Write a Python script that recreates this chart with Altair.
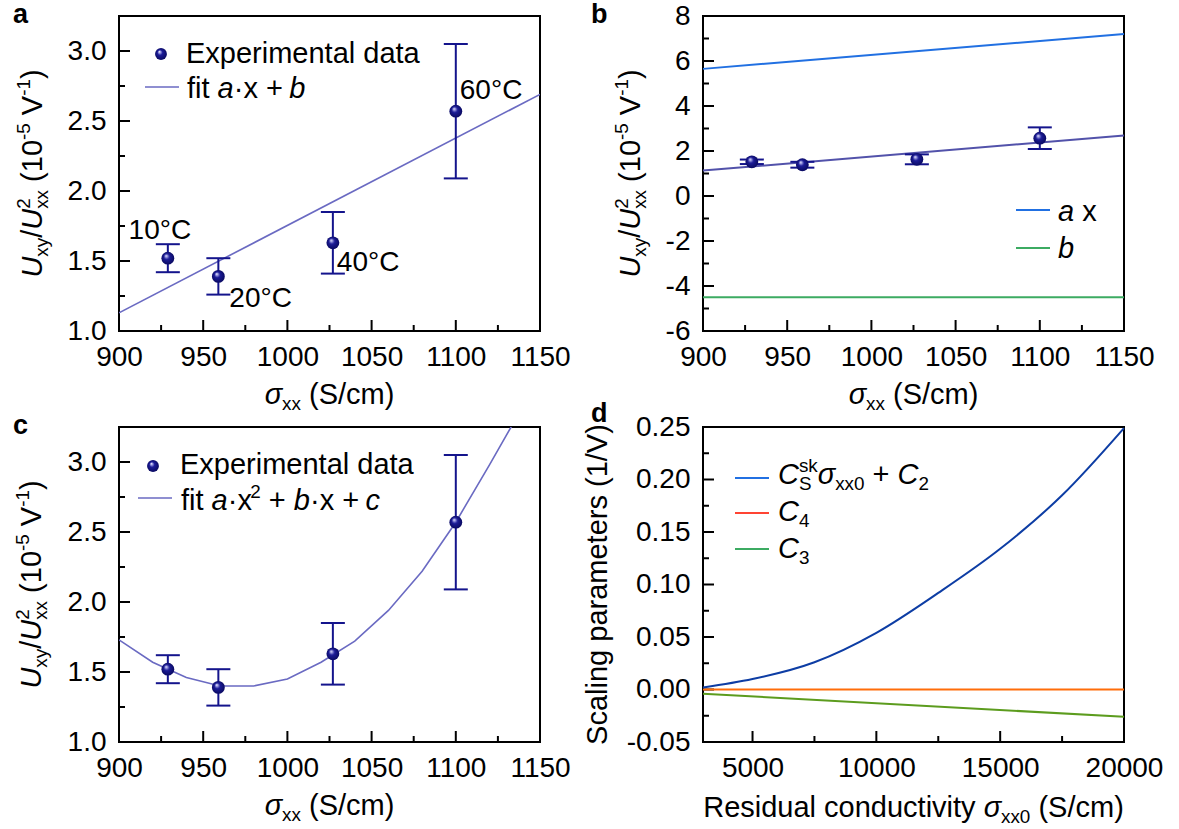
import altair as alt
import pandas as pd

F = "Liberation Sans"
LS = 28   # tick-label size
TS = 29   # titles / legend size

# ---------------- data ----------------
sigma = [929, 959, 1027, 1100]
ratio = [1.52, 1.39, 1.63, 2.57]
err_lo = [1.42, 1.26, 1.41, 2.09]
err_hi = [1.62, 1.52, 1.85, 3.05]
temps = ["10°C", "20°C", "40°C", "60°C"]

lin_x = [900, 1150]
lin_fit = [1.13, 2.69]
lin_ax = [5.65, 7.20]
lin_b = [-4.50, -4.50]

quad_x = [900, 920, 940, 960, 980, 1000, 1020, 1040, 1060, 1080, 1100, 1120, 1140]
quad_fit = [1.73, 1.57, 1.46, 1.40, 1.40, 1.45, 1.57, 1.72, 1.94, 2.22, 2.57, 2.98, 3.40]

res_x = [3000, 5000, 7500, 10000, 12500, 15000, 17500, 20000]
res_skew = [0.002, 0.010, 0.026, 0.054, 0.092, 0.134, 0.185, 0.249]
res_line_x = [3000, 20000]
res_c4 = [0.0, 0.0]
res_c3 = [-0.004, -0.026]

sig_major = [900, 950, 1000, 1050, 1100, 1150]
sig_minor = [925, 975, 1025, 1075, 1125]
rat_major = [1.0, 1.5, 2.0, 2.5, 3.0]
rat_minor = [1.25, 1.75, 2.25, 2.75]
b_major = [-6, -4, -2, 0, 2, 4, 6, 8]
b_minor = [-5, -3, -1, 1, 3, 5, 7]
res_major = [5000, 10000, 15000, 20000]
res_minor = [7500, 12500, 17500]
par_major = [-0.05, 0.0, 0.05, 0.10, 0.15, 0.20, 0.25]
par_minor = [-0.025, 0.025, 0.075, 0.125, 0.175, 0.225]

pts = pd.DataFrame({"s": sigma, "r": ratio, "lo": err_lo, "hi": err_hi, "t": temps})

# ---------------- styles ----------------
W, H = 421, 315
NAVY = "#14148c"
FIT = "#6a6ac2"
FIT_B = "#5252aa"
BLUE = "#2170e2"
GREEN = "#3cab62"
D_BLUE = "#0d3da4"
D_ORANGE = "#ff6d0a"
D_RED = "#ff4433"
D_OLIVE = "#5c9c1e"
BALL = alt.RadialGradient(
    gradient="radial",
    stops=[alt.GradientStop(offset=0, color="#f6f6ff"),
           alt.GradientStop(offset=0.16, color="#9d9de2"),
           alt.GradientStop(offset=0.4, color="#1c1c98"),
           alt.GradientStop(offset=1, color="#07075a")],
    x1=0.36, y1=0.3, r1=0, x2=0.5, y2=0.5, r2=0.55)

ONE = alt.Data(values=[{"k": 0}])

WID = {' ': 0.278, '(': 0.333, ')': 0.333, '/': 0.278, '-': 0.333, '·': 0.278,
       '+': 0.584, '°': 0.4, 'σ': 0.6, 'a': 0.556, 'b': 0.556, 'c': 0.5, 'd': 0.556,
       'e': 0.556, 'f': 0.278, 'g': 0.556, 'i': 0.222, 'k': 0.5, 'l': 0.222, 'm': 0.833,
       'n': 0.556, 'o': 0.556, 'p': 0.556, 'r': 0.333, 's': 0.5, 't': 0.278, 'u': 0.556,
       'v': 0.5, 'x': 0.5, 'y': 0.5, 'C': 0.722, 'E': 0.667, 'R': 0.722, 'S': 0.667,
       'U': 0.722, 'V': 0.667}


def adv(s):
    return sum(WID.get(c, 0.556) for c in s)


def rich(segs, x, y, size, angle=0, center=False):
    items = []
    pos = 0.0
    for seg in segs:
        kind = seg[0]
        if kind == "stack":
            _, sup, sub = seg
            fs = size * 0.65
            items.append((sup, fs, -0.42 * size, False, pos))
            items.append((sub, fs, 0.22 * size, False, pos))
            pos += max(adv(sup), adv(sub)) * fs
            continue
        _, text, italic = seg
        if kind == "n":
            fs, dy = size, 0.0
        elif kind == "sub":
            fs, dy = size * 0.65, 0.22 * size
        else:
            fs, dy = size * 0.65, -0.42 * size
        lead = len(text) - len(text.lstrip(" "))
        items.append((text.strip(" "), fs, dy, italic, pos + lead * WID[' '] * fs))
        pos += adv(text) * fs
    shift = -pos / 2 if center else 0.0
    out = []
    for text, fs, dy, italic, p in items:
        if not text:
            continue
        out.append(alt.Chart(ONE).mark_text(
            text=text, font=F, fontSize=fs,
            fontStyle="italic" if italic else "normal",
            align="left", baseline="alphabetic", angle=angle,
            dx=p + shift, dy=dy, color="black").encode(
            x=alt.value(x), y=alt.value(y)))
    return out


def plain(text, x, y, size, angle=0, align="left", bold=False):
    return alt.Chart(ONE).mark_text(
        text=text, font=F, fontSize=size, align=align, baseline="alphabetic",
        angle=angle, fontWeight="bold" if bold else "normal", color="black").encode(
        x=alt.value(x), y=alt.value(y))


def axes(xdom, ydom, xvals, yvals, yexpr):
    axx = alt.Axis(values=xvals, title=None, ticks=False, tickSize=0, domain=False,
                   grid=False, labelFont=F, labelFontSize=LS, labelColor="black",
                   labelPadding=12, labelFlush=False, labelOverlap=False,
                   labelExpr="format(datum.value, 'd')")
    axy = alt.Axis(values=yvals, title=None, ticks=False, tickSize=0, domain=False,
                   grid=False, labelFont=F, labelFontSize=LS, labelColor="black",
                   labelPadding=13, labelFlush=False, labelOverlap=False,
                   labelExpr=yexpr)
    sx = alt.Scale(domain=xdom, nice=False, zero=False)
    sy = alt.Scale(domain=ydom, nice=False, zero=False)

    def X(f):
        return alt.X(f, type="quantitative", scale=sx, axis=axx)

    def Y(f):
        return alt.Y(f, type="quantitative", scale=sy, axis=axy)
    return X, Y


def ticks(X, Y, xmaj, xmin, ymaj, ymin):
    L = []
    for vals, ln in ((xmaj, 11), (xmin, 6)):
        L.append(alt.Chart(pd.DataFrame({"v": vals})).mark_rule(
            color="black", strokeWidth=2).encode(
            x=X("v"), y=alt.value(H), y2=alt.value(H - ln)))
    for vals, ln in ((ymaj, 11), (ymin, 6)):
        L.append(alt.Chart(pd.DataFrame({"v": vals})).mark_rule(
            color="black", strokeWidth=2).encode(
            y=Y("v"), x=alt.value(0), x2=alt.value(ln)))
    return L


def points(X, Y):
    return [
        alt.Chart(pts).mark_rule(color=NAVY, strokeWidth=2).encode(
            x=X("s"), y=Y("lo"), y2=alt.Y2("hi")),
        alt.Chart(pts).mark_tick(orient="horizontal", size=24, thickness=2,
                                 color=NAVY, opacity=1).encode(x=X("s"), y=Y("hi")),
        alt.Chart(pts).mark_tick(orient="horizontal", size=24, thickness=2,
                                 color=NAVY, opacity=1).encode(x=X("s"), y=Y("lo")),
        alt.Chart(pts).mark_circle(size=165, fill=BALL, opacity=1, strokeWidth=0).encode(
            x=X("s"), y=Y("r")),
    ]


def ball_value(x, y):
    return alt.Chart(ONE).mark_circle(size=140, fill=BALL, opacity=1, strokeWidth=0).encode(
        x=alt.value(x), y=alt.value(y))


def seg_line(x1, x2, y, color, width=2):
    return alt.Chart(ONE).mark_rule(color=color, strokeWidth=width).encode(
        x=alt.value(x1), x2=alt.value(x2), y=alt.value(y))


def ytitle_ratio(xpos):
    segs = [("n", "U", True), ("sub", "xy", False), ("n", "/", False),
            ("n", "U", True), ("stack", "2", "xx"), ("n", " (10", False),
            ("sup", "-5", False), ("n", " V", False), ("sup", "-1", False),
            ("n", ")", False)]
    return rich(segs, xpos, H / 2, TS, angle=270, center=True)


def xtitle_sigma():
    segs = [("n", "σ", True), ("sub", "xx", False), ("n", " (S/cm)", False)]
    return rich(segs, W / 2, H + 73, TS, center=True)


# ---------------- panel a ----------------
Xa, Ya = axes([900, 1150], [1.0, 3.25], sig_major, rat_major,
              "format(datum.value, '.1f')")
la = []
la += ticks(Xa, Ya, sig_major, sig_minor, rat_major, rat_minor)
la.append(alt.Chart(pd.DataFrame({"x": lin_x, "y": lin_fit})).mark_line(
    color=FIT, strokeWidth=1.6, clip=True).encode(x=Xa("x"), y=Ya("y")))
la += points(Xa, Ya)
for lab, al, dx, dy, fld in (("10°C", "center", -8, -5, "hi"), ("20°C", "left", 11, 12, "lo"),
                             ("40°C", "left", 4, 28, "r"), ("60°C", "left", 4, -12, "r")):
    la.append(alt.Chart(pts).transform_filter(alt.datum.t == lab).mark_text(
        font=F, fontSize=28, align=al, baseline="alphabetic", dx=dx, dy=dy,
        color="black").encode(x=Xa("s"), y=Ya(fld), text="t:N"))
la.append(ball_value(42, 38))
la.append(plain("Experimental data", 67, 47, TS))
la.append(seg_line(26, 60, 71, FIT, 1.6))
la += rich([("n", "fit ", False), ("n", "a", True), ("n", "·x + ", False), ("n", "b", True)],
           68, 82, TS)
la += xtitle_sigma()
la += ytitle_ratio(-77)
la.append(plain("a", -106, 7, 27, bold=True))
# anchor of the page's top-left corner
la.append(alt.Chart(ONE).mark_rule(opacity=0, strokeWidth=0).encode(
    x=alt.value(-118), x2=alt.value(-117), y=alt.value(-15), y2=alt.value(-14)))
pa = alt.layer(*la).properties(width=W, height=H)

# ---------------- panel b ----------------
Xb, Yb = axes([900, 1150], [-6, 8], sig_major, b_major,
              "replace(format(datum.value, 'd'), '\u2212', '-')")
lb = []
lb += ticks(Xb, Yb, sig_major, sig_minor, b_major, b_minor)
lb.append(alt.Chart(pd.DataFrame({"x": lin_x, "y": lin_ax})).mark_line(
    color=BLUE, strokeWidth=2).encode(x=Xb("x"), y=Yb("y")))
lb.append(alt.Chart(pd.DataFrame({"x": lin_x, "y": lin_b})).mark_line(
    color=GREEN, strokeWidth=2).encode(x=Xb("x"), y=Yb("y")))
lb.append(alt.Chart(pd.DataFrame({"x": lin_x, "y": lin_fit})).mark_line(
    color=FIT_B, strokeWidth=2).encode(x=Xb("x"), y=Yb("y")))
lb += points(Xb, Yb)
lb.append(seg_line(313, 347, 194, BLUE))
lb += rich([("n", "a", True), ("n", " x", False)], 355, 205, TS)
lb.append(seg_line(313, 347, 232, GREEN))
lb += rich([("n", "b", True)], 355, 242, TS)
lb += xtitle_sigma()
lb += ytitle_ratio(-63)
lb.append(plain("b", -112, 7, 27, bold=True))
pb = alt.layer(*lb).properties(width=W, height=H)

# ---------------- panel c ----------------
Xc, Yc = axes([900, 1150], [1.0, 3.25], sig_major, rat_major,
              "format(datum.value, '.1f')")
lc = []
lc += ticks(Xc, Yc, sig_major, sig_minor, rat_major, rat_minor)
lc.append(alt.Chart(pd.DataFrame({"x": quad_x, "y": quad_fit})).mark_line(
    color=FIT, strokeWidth=1.6, clip=True).encode(x=Xc("x"), y=Yc("y")))
lc += points(Xc, Yc)
lc.append(ball_value(34, 39))
lc.append(plain("Experimental data", 61, 47, TS))
lc.append(seg_line(19, 53, 71, FIT, 1.6))
lc += rich([("n", "fit ", False), ("n", "a", True), ("n", "·x", False), ("sup", "2", False),
            ("n", " + ", False), ("n", "b", True), ("n", "·x + ", False), ("n", "c", True)],
           62, 83, TS)
lc += xtitle_sigma()
lc += ytitle_ratio(-78)
lc.append(plain("c", -106, 7, 27, bold=True))
pc = alt.layer(*lc).properties(width=W, height=H)

# ---------------- panel d ----------------
Xd, Yd = axes([3000, 20000], [-0.05, 0.25], res_major, par_major,
              "replace(format(datum.value, '.2f'), '\u2212', '-')")
ld = []
ld += ticks(Xd, Yd, res_major, res_minor, par_major, par_minor)
ld.append(alt.Chart(pd.DataFrame({"x": res_line_x, "y": res_c3})).mark_line(
    color=D_OLIVE, strokeWidth=2).encode(x=Xd("x"), y=Yd("y")))
ld.append(alt.Chart(pd.DataFrame({"x": res_line_x, "y": res_c4})).mark_line(
    color=D_ORANGE, strokeWidth=2).encode(x=Xd("x"), y=Yd("y")))
ld.append(alt.Chart(pd.DataFrame({"x": res_x, "y": res_skew})).mark_line(
    color=D_BLUE, strokeWidth=2, interpolate="monotone").encode(x=Xd("x"), y=Yd("y")))
ld.append(seg_line(32, 66, 51, BLUE))
ld += rich([("n", "C", True), ("stack", "sk", "S"), ("n", "σ", True), ("sub", "xx0", False),
            ("n", " + ", False), ("n", "C", True), ("sub", "2", False)], 75, 57, TS)
ld.append(seg_line(32, 66, 86, D_RED))
ld += rich([("n", "C", True), ("sub", "4", False)], 75, 94, TS)
ld.append(seg_line(32, 66, 122, GREEN))
ld += rich([("n", "C", True), ("sub", "3", False)], 75, 131, TS)
ld += rich([("n", "Residual conductivity ", False), ("n", "σ", True), ("sub", "xx0", False),
            ("n", " (S/cm)", False)], W / 2, H + 75, TS, center=True)
ld.append(plain("Scaling parameters (1/V)", -96, H / 2, TS, angle=270, align="center"))
ld.append(plain("d", -112, -5, 27, bold=True))
pdd = alt.layer(*ld).properties(width=W, height=H)

chart = alt.concat(pa, pb, pc, pdd, columns=2, spacing={"row": 96, "column": 163},
                   bounds="flush").properties(padding=0).configure_view(
    stroke="black", strokeWidth=2)

chart.save("out.html", embed_options={"renderer": "svg", "actions": False})
